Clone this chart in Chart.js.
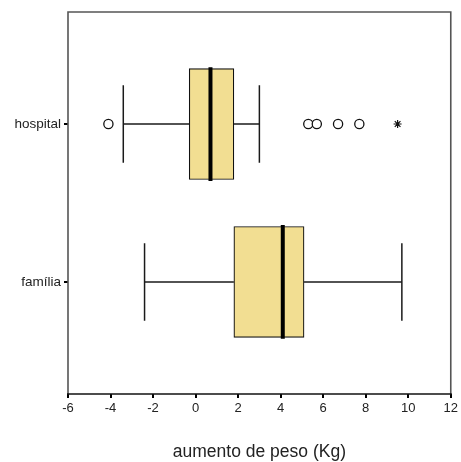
<!DOCTYPE html>
<html>
<head>
<meta charset="utf-8">
<script src="https://cdn.jsdelivr.net/npm/chart.js@4.4.1/dist/chart.umd.min.js"></script>
<style>
  html, body { margin: 0; padding: 0; background: #fff; }
  #wrap { width: 461px; height: 462px; }
</style>
</head>
<body>
<div id="wrap"><canvas id="c" width="461" height="462"></canvas></div>
<script>
// Weight gain (kg) by group: five-number summaries and outlying points
const categories   = ['hospital', 'família'];
const whiskerLow   = [-3.4, -2.4];
const quartile1    = [-0.3, 1.8];
const medians      = [0.7, 4.1];
const quartile3    = [1.8, 5.1];
const whiskerHigh  = [3.0, 9.7];
const outliers     = [[-4.1, 5.3, 5.7, 6.7, 7.7], []];
const extremes     = [[9.5], []];
const xTicks       = [-6, -4, -2, 0, 2, 4, 6, 8, 10, 12];

const BOX_FILL = '#F2DE92';
const CAP_HALF = 0.245;  // half whisker-cap height, in category units
const MED_HALF = 0.36;   // half median-bar height

const datasets = [];

// boxes (Q1..Q3) as floating horizontal bars
datasets.push({
  type: 'bar',
  indexAxis: 'y',
  data: categories.map((c, i) => ({ y: i, x: [quartile1[i], quartile3[i]] })),
  backgroundColor: BOX_FILL,
  borderColor: '#111',
  borderWidth: 1.2,
  borderSkipped: false,
  barThickness: 111,
  order: 2
});

function seg(points, width, color) {
  datasets.push({
    type: 'scatter',
    showLine: true,
    data: points,
    borderColor: color || '#1a1a1a',
    borderWidth: width,
    pointRadius: 0,
    fill: false,
    order: 1
  });
}

categories.forEach((c, i) => {
  // whisker stems
  seg([{ x: whiskerLow[i], y: i }, { x: quartile1[i], y: i }], 1.3);
  seg([{ x: quartile3[i], y: i }, { x: whiskerHigh[i], y: i }], 1.3);
  // whisker caps
  seg([{ x: whiskerLow[i], y: i - CAP_HALF }, { x: whiskerLow[i], y: i + CAP_HALF }], 1.5);
  seg([{ x: whiskerHigh[i], y: i - CAP_HALF }, { x: whiskerHigh[i], y: i + CAP_HALF }], 1.5);
  // median
  seg([{ x: medians[i], y: i - MED_HALF }, { x: medians[i], y: i + MED_HALF }], 4, '#000');
});

// outliers (circles) and extremes (asterisks)
datasets.push({
  type: 'scatter',
  data: outliers.flatMap((arr, i) => arr.map(v => ({ x: v, y: i }))),
  pointStyle: 'circle',
  pointRadius: 4.6,
  pointBackgroundColor: '#fff',
  pointBorderColor: '#111',
  pointBorderWidth: 1.3,
  order: 0
});
datasets.push({
  type: 'scatter',
  data: extremes.flatMap((arr, i) => arr.map(v => ({ x: v, y: i }))),
  pointStyle: 'star',
  pointRadius: 4,
  pointBorderColor: '#111',
  pointBorderWidth: 1.2,
  order: 0
});

// plot frame: grey on three sides, black along the value axis
const frame = {
  id: 'frame',
  afterDraw(chart) {
    const { ctx, chartArea: a } = chart;
    ctx.save();
    ctx.lineWidth = 1.6;
    ctx.strokeStyle = '#555';
    ctx.beginPath();
    ctx.moveTo(a.left, a.bottom);
    ctx.lineTo(a.left, a.top);
    ctx.lineTo(a.right, a.top);
    ctx.lineTo(a.right, a.bottom);
    ctx.stroke();
    ctx.strokeStyle = '#111';
    ctx.beginPath();
    ctx.moveTo(a.left - 1, a.bottom);
    ctx.lineTo(a.right + 1, a.bottom);
    ctx.stroke();
    ctx.restore();
  }
};

new Chart(document.getElementById('c'), {
  data: { datasets },
  plugins: [frame],
  options: {
    responsive: false,
    animation: false,
    layout: { padding: { top: 12, right: 8, left: 0, bottom: 0 } },
    plugins: { legend: { display: false }, tooltip: { enabled: false } },
    scales: {
      x: {
        type: 'linear',
        position: 'bottom',
        min: -6,
        max: 12,
        offset: false,
        afterBuildTicks(scale) { scale.ticks = xTicks.map(v => ({ value: v })); },
        afterFit(scale) { scale.height = 68; },
        grid: { offset: false, drawOnChartArea: false, drawTicks: true, tickLength: 4, color: '#000', lineWidth: 2 },
        border: { display: false },
        ticks: { color: '#222', padding: 3, font: { family: 'Liberation Sans', size: 13 } },
        title: {
          display: true,
          text: 'aumento de peso (Kg)',
          color: '#222',
          padding: { top: 0, bottom: -1 },
          font: { family: 'Liberation Sans', size: 17.5 }
        }
      },
      y: {
        type: 'linear',
        position: 'left',
        reverse: true,
        min: -0.709,
        max: 1.709,
        offset: false,
        afterBuildTicks(scale) { scale.ticks = categories.map((c, i) => ({ value: i })); },
        afterFit(scale) { scale.width = 68; },
        grid: { offset: false, drawOnChartArea: false, drawTicks: true, tickLength: 4, color: '#000', lineWidth: 2 },
        border: { display: false },
        ticks: {
          color: '#222',
          padding: 3,
          font: { family: 'Liberation Sans', size: 13.5 },
          callback: (v) => categories[v] !== undefined ? categories[v] : ''
        }
      }
    }
  }
});
</script>
</body>
</html>
